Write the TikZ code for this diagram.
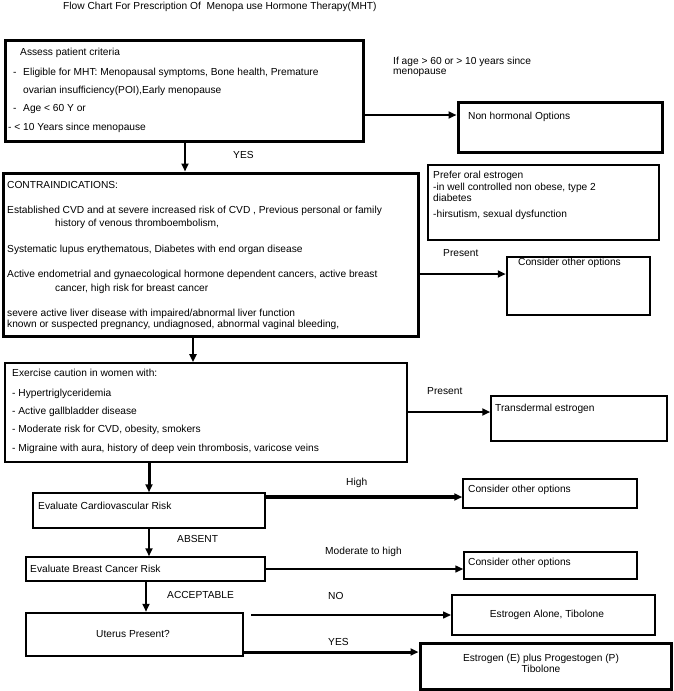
\documentclass[tikz,border=0pt]{standalone}
\usepackage{fontspec}
\setmainfont{Liberation Sans}
\usetikzlibrary{arrows.meta}
\newcommand\myfs{\fontsize{10.2}{11}\selectfont}
\tikzset{
  box/.style={draw, rectangle, inner sep=0pt},
  txt/.style={anchor=base west, inner sep=0pt, font=\myfs},
  ctxt/.style={anchor=base, inner sep=0pt, font=\myfs},
  arr/.style={-{Triangle[length=8pt,width=7pt]}},
}
\begin{document}
\begin{tikzpicture}[x=1pt,y=-1pt]
\useasboundingbox (0,0) rectangle (673,691);
% title
\node[txt] (title) at (63,9.5) {Flow Chart For Prescription Of~ Menopa use Hormone Therapy(MHT)};
% boxes
\node[box, line width=3pt, minimum width=358pt, minimum height=101pt] (b1) at (184,90.5) {};
\node[box, line width=3pt, minimum width=204pt, minimum height=50pt] (nh) at (560,127) {};
\node[box, line width=3pt, minimum width=415pt, minimum height=163pt] (b2) at (210.5,254.5) {};
\node[box, line width=2.5pt, minimum width=231pt, minimum height=75pt] (po) at (543.5,202.5) {};
\node[box, line width=2.5pt, minimum width=143pt, minimum height=58pt] (c1) at (578.5,286) {};
\node[box, line width=1.8pt, minimum width=402pt, minimum height=99pt] (b3) at (206,412.5) {};
\node[box, line width=1.5pt, minimum width=176pt, minimum height=45pt] (td) at (579,418.5) {};
\node[box, line width=1.5pt, minimum width=232pt, minimum height=35pt] (cvd) at (149,510.5) {};
\node[box, line width=1.5pt, minimum width=174pt, minimum height=29pt] (c2) at (550,493.5) {};
\node[box, line width=1.5pt, minimum width=239pt, minimum height=24pt] (bc) at (145.5,569) {};
\node[box, line width=1.5pt, minimum width=173pt, minimum height=27pt] (c3) at (550.5,565.5) {};
\node[box, line width=2.5pt, minimum width=217pt, minimum height=43pt] (ut) at (134.5,634.5) {};
\node[box, line width=2pt, minimum width=203pt, minimum height=40pt] (ea) at (553.5,615) {};
\node[box, line width=3pt, minimum width=251pt, minimum height=46pt] (ep) at (545.5,666) {};
% box 1 text
\node[txt] (t1a) at (20,55.5) {Assess patient criteria};
\node[txt] (t1b) at (13,75.5) {-};
\node[txt] (t1c) at (23,75.5) {Eligible for MHT: Menopausal symptoms, Bone health, Premature};
\node[txt] (t1d) at (23,93.5) {ovarian insufficiency(POI),Early menopause};
\node[txt] (t1e) at (13,111.5) {-};
\node[txt] (t1f) at (23,111.5) {Age < 60 Y or};
\node[txt] (t1g) at (8,130.5) {- < 10 Years since menopause};
\node[txt] (lage1) at (393,64.5) {If age > 60 or > 10 years since};
\node[txt] (lage2) at (393,74.5) {menopause};
\node[txt] (tnh) at (468,119.5) {Non hormonal Options};
\node[txt] (lyes1) at (233,158.5) {YES};
% box 2 text
\node[txt] (t2a) at (7,188.5) {CONTRAINDICATIONS:};
\node[txt] (t2b) at (7,213.5) {Established CVD and at severe increased risk of CVD , Previous personal or family};
\node[txt] (t2c) at (55,226.5) {history of venous thromboembolism,};
\node[txt] (t2d) at (7,252.5) {Systematic lupus erythematous, Diabetes with end organ disease};
\node[txt] (t2e) at (7,277.5) {Active endometrial and gynaecological hormone dependent cancers, active breast};
\node[txt] (t2f) at (55,291.5) {cancer, high risk for breast cancer};
\node[txt] (t2g) at (7,316.5) {severe active liver disease with impaired/abnormal liver function};
\node[txt] (t2h) at (7,327.5) {known or suspected pregnancy, undiagnosed, abnormal vaginal bleeding,};
% prefer oral
\node[txt] (tpa) at (433,178.5) {Prefer oral estrogen};
\node[txt] (tpb) at (433,190.5) {-in well controlled non obese, type 2};
\node[txt] (tpc) at (433,201.5) {diabetes};
\node[txt] (tpd) at (433,217.5) {-hirsutism, sexual dysfunction};
\node[txt] (lpres1) at (443,256.5) {Present};
\node[txt] (tc1) at (518,265.5) {Consider other options};
% box 3 text
\node[txt] (t3a) at (12,376.5) {Exercise caution in women with:};
\node[txt] (t3b) at (12,396.5) {- Hypertriglyceridemia};
\node[txt] (t3c) at (12,414.5) {- Active gallbladder disease};
\node[txt] (t3d) at (12,432.5) {- Moderate risk for CVD, obesity, smokers};
\node[txt] (t3e) at (12,451.5) {- Migraine with aura, history of deep vein thrombosis, varicose veins};
\node[txt] (lpres2) at (427,394.5) {Present};
\node[txt] (ttd) at (495,411.5) {Transdermal estrogen};
% lower part
\node[txt] (lhigh) at (346,485.5) {High};
\node[txt] (tcvd) at (38,509.5) {Evaluate Cardiovascular Risk};
\node[txt] (tc2) at (468,492.5) {Consider other options};
\node[txt] (labs) at (177,542.5) {ABSENT};
\node[txt] (lmod) at (325,554.5) {Moderate to high};
\node[txt] (tbc) at (30,572.5) {Evaluate Breast Cancer Risk};
\node[txt] (tc3) at (468,565.5) {Consider other options};
\node[txt] (lacc) at (167,598.5) {ACCEPTABLE};
\node[txt] (lno) at (328,599.5) {NO};
\node[txt] (lyes2) at (328,645.5) {YES};
\node[ctxt] (tut) at (133,637.5) {Uterus Present?};
\node[ctxt] (tea) at (547,617.5) {Estrogen Alone, Tibolone};
\node[ctxt] (tepa) at (541,661.5) {Estrogen (E) plus Progestogen (P)};
\node[ctxt] (tepb) at (541,672.5) {Tibolone};
% connectors
\draw[arr, line width=2.5pt] (b1.east |- 0,115) -- (nh.west |- 0,115);
\draw[arr, line width=2pt] (b1.south -| 185,0) -- (b2.north -| 185,0);
\draw[arr, line width=2.5pt] (b2.east |- 0,274) -- (c1.west |- 0,274);
\draw[arr, line width=2pt] (b2.south -| 193,0) -- (b3.north -| 193,0);
\draw[arr, line width=2.5pt] (b3.east |- 0,412) -- (td.west |- 0,412);
\draw[arr, line width=3pt] (b3.south -| 149,0) -- (cvd.north -| 149,0);
\draw[arr, line width=3.5pt] (cvd.east |- 0,497) -- (c2.west |- 0,497);
\draw[arr, line width=2pt] (cvd.south -| 149,0) -- (bc.north -| 149,0);
\draw[arr, line width=1.5pt] (bc.east) -- (c3.west |- bc.east);
\draw[arr, line width=2pt] (bc.south -| 146,0) -- (ut.north -| 146,0);
\coordinate (nostart) at (251,615);
\draw[arr, line width=1.5pt] (nostart) -- (ea.west |- nostart);
\draw[arr, line width=3pt] (ut.east |- 0,652) -- (ep.west |- 0,652);
\end{tikzpicture}
\end{document}
